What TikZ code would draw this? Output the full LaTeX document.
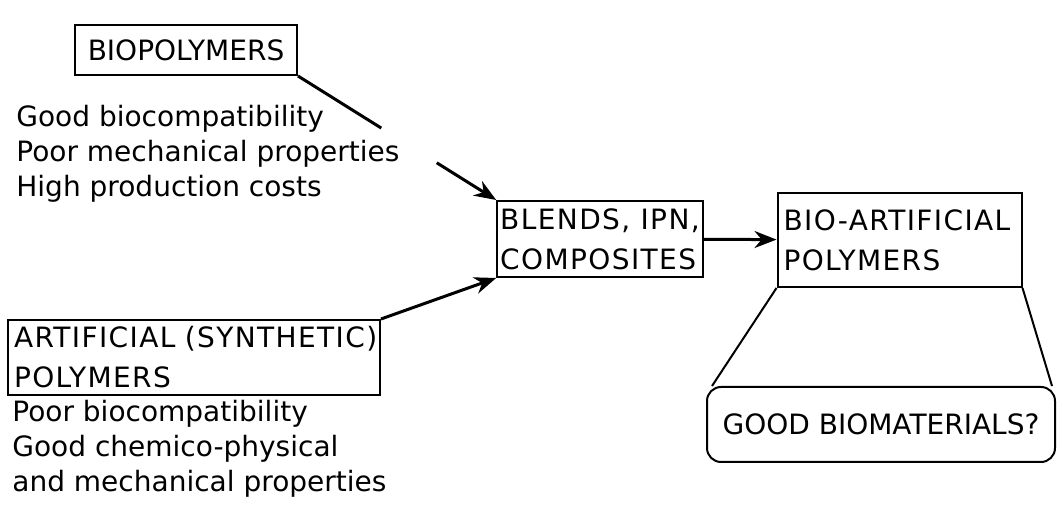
\documentclass[tikz,border=0pt]{standalone}
\usepackage{fontspec}
\setmainfont{DejaVu Sans}
\newfontfamily\widelabel[LetterSpace=5]{DejaVu Sans}
\usepackage{tikz}
\usetikzlibrary{arrows.meta, calc, positioning}
\tikzset{
  polybox/.style={draw, line width=1pt, inner sep=3pt, font=\fontsize{14}{20}\selectfont},
  widebox/.style={polybox, font=\fontsize{14}{20}\selectfont\widelabel},
  proptext/.style={align=left, inner sep=0pt, anchor=north west, font=\fontsize{14}{17.5}\selectfont},
  link/.style={line width=1.5pt}
}

\begin{document}
\begin{tikzpicture}[>={Stealth[length=11pt, width=8.5pt]}, x=0.5pt, y=-0.5pt]
\useasboundingbox (0,0) rectangle (1064,506);
\node[polybox, minimum width=111pt, minimum height=25pt] (bio) at (186,50) {BIOPOLYMERS};
\node[proptext] (bioprops) at (16,105) {Good biocompatibility\\Poor mechanical properties\\High production costs};
\node[widebox, inner xsep=1.5pt, minimum width=102pt, minimum height=38pt, align=left] (blends) at (600,239) {BLENDS, IPN,\\COMPOSITES};
\node[widebox, text width=180pt, minimum height=37.5pt, align=left] (art) at (194,357.5) {ARTIFICIAL (SYNTHETIC)\\POLYMERS};
\node[proptext] (artprops) at (12,400) {Poor biocompatibility\\Good chemico-physical\\and mechanical properties};
\node[widebox, text width=116pt, minimum height=47pt, align=left] (bioart) at (899.5,240) {BIO-ARTIFICIAL\\POLYMERS};
\node[polybox, rounded corners=7pt, minimum width=174pt, minimum height=37.5pt] (good) at (881,424.5) {GOOD BIOMATERIALS?};
% arrows into the blends box
\draw[link] (bio.south east) -- ($(bio.south east)!0.42!(blends.north west)$);
\draw[link, ->] ($(bio.south east)!0.7!(blends.north west)$) -- (blends.north west);
\draw[link, ->] (art.north east) -- (blends.south west);
\draw[link, ->] (blends) -- (bioart);
% funnel
\draw[line width=1pt] (bioart.south west) -- ([xshift=3pt]good.north west);
\draw[line width=1pt] (bioart.south east) -- ([xshift=-2pt]good.north east);
\end{tikzpicture}
\end{document}
